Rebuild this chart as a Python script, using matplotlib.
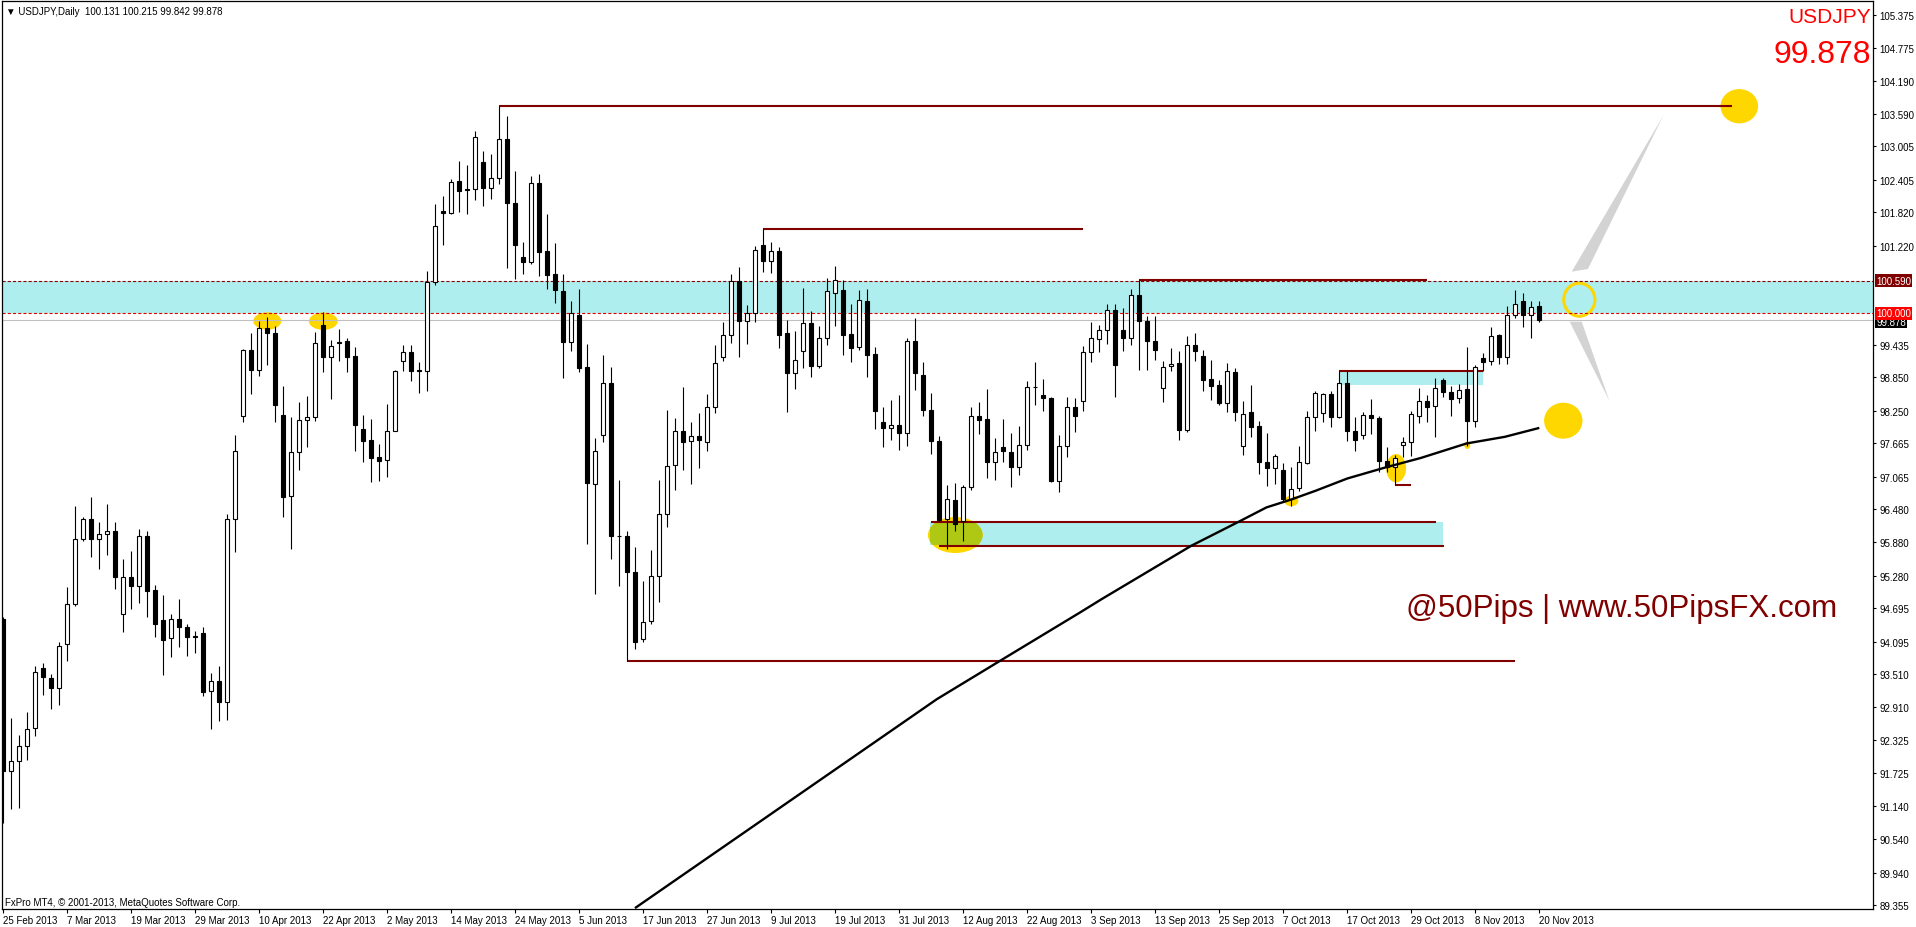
import matplotlib
matplotlib.use("Agg")
import matplotlib.pyplot as plt
import matplotlib.transforms as mtransforms
from matplotlib.patches import Ellipse, Rectangle, Polygon

plt.rcParams['font.family'] = ['Liberation Sans', 'DejaVu Sans']

# USDJPY daily candles, 25 Feb 2013 .. 20 Nov 2013 (x = bar number)
opens = [94.50, 91.76, 91.94, 92.21, 92.54, 93.62, 93.44, 93.26, 94.05, 94.78,
         95.94, 96.30, 95.95, 96.04, 96.08, 94.59, 95.25, 95.10, 95.99, 95.02,
         94.48, 94.16, 94.50, 94.35, 94.19, 94.25, 93.21, 93.39, 93.00, 96.31,
         98.16, 99.34, 98.99, 99.73, 99.65, 98.17, 96.72, 97.50, 98.08, 98.13,
         99.79, 99.21, 99.46, 99.50, 99.23, 97.92, 97.72, 97.41, 97.36, 97.89,
         99.14, 99.30, 98.98, 98.96, 100.56, 101.85, 101.80, 102.38, 102.23, 102.23,
         102.72, 102.25, 102.44, 103.14, 101.99, 101.02, 100.93, 102.34, 101.12, 100.71,
         100.40, 99.49, 99.98, 99.03, 96.93, 97.81, 98.74, 95.99, 95.99, 95.34,
         94.14, 94.46, 95.28, 96.40, 97.28, 97.88, 97.70, 97.79, 97.68, 98.31,
         99.21, 99.62, 100.59, 99.87, 100.00, 101.24, 100.94, 101.12, 99.64, 98.92,
         99.32, 99.82, 99.06, 99.55, 100.36, 100.42, 99.63, 99.39, 100.22, 99.27,
         98.04, 97.93, 98.00, 97.84, 99.51, 98.89, 98.27, 97.70, 96.31, 96.64,
         96.27, 96.87, 98.16, 98.10, 97.32, 97.59, 97.50, 97.23, 97.64, 98.68,
         98.53, 98.47, 96.98, 97.61, 98.31, 98.42, 99.30, 99.54, 99.71, 100.07,
         99.70, 99.55, 100.34, 99.86, 99.50, 98.65, 99.05, 99.11, 97.91, 99.43,
         99.23, 98.82, 98.71, 98.39, 98.94, 97.62, 98.22, 97.97, 97.32, 97.22,
         97.18, 96.66, 96.85, 97.31, 98.13, 98.20, 98.55, 98.14, 98.74, 97.88,
         97.82, 98.17, 98.11, 97.34, 97.23, 97.63, 97.68, 98.16, 98.42, 98.33,
         98.80, 98.58, 98.47, 98.64, 98.06, 99.19, 99.14, 99.61, 99.21, 99.98,
         100.23, 99.97, 100.131]
highs = [94.53, 92.72, 92.42, 92.82, 93.66, 93.71, 93.51, 94.08, 95.07, 96.53,
         96.33, 96.69, 96.24, 96.57, 96.24, 95.58, 95.72, 96.12, 96.08, 95.11,
         94.93, 94.59, 94.87, 94.41, 94.29, 94.35, 93.53, 93.66, 96.39, 97.81,
         99.36, 99.65, 99.87, 99.93, 99.78, 98.69, 98.13, 98.40, 98.51, 99.66,
         100.02, 99.52, 99.72, 99.55, 99.39, 98.17, 98.10, 97.65, 98.37, 98.99,
         99.43, 99.43, 99.12, 100.77, 101.96, 102.12, 102.42, 102.74, 102.67, 103.28,
         102.92, 102.87, 103.74, 103.55, 102.56, 101.28, 102.48, 102.50, 101.79, 101.26,
         100.71, 100.23, 100.44, 99.45, 97.76, 99.26, 99.03, 97.00, 96.08, 95.79,
         95.18, 95.74, 97.00, 98.26, 98.12, 98.67, 98.04, 98.21, 98.55, 99.43,
         99.84, 100.71, 100.83, 100.15, 101.21, 101.52, 101.28, 101.19, 99.88, 99.68,
         100.46, 100.04, 99.78, 100.64, 100.86, 100.60, 100.17, 100.42, 100.44, 99.40,
         98.31, 98.44, 98.53, 99.56, 99.92, 99.12, 98.56, 97.79, 96.91, 96.94,
         96.91, 98.31, 98.41, 98.64, 97.76, 98.10, 97.85, 97.97, 98.79, 99.12,
         98.82, 98.49, 97.81, 98.49, 98.47, 99.41, 99.85, 99.79, 100.17, 100.17,
         100.09, 100.44, 100.60, 99.96, 99.95, 99.15, 99.37, 99.33, 99.60, 99.64,
         99.34, 99.16, 98.80, 99.10, 99.02, 98.43, 98.71, 98.06, 97.84, 97.47,
         97.30, 97.23, 97.62, 98.24, 98.61, 98.57, 98.61, 98.96, 98.96, 98.13,
         98.22, 98.46, 98.16, 97.59, 97.46, 97.77, 98.25, 98.65, 98.54, 98.83,
         98.83, 98.70, 98.73, 99.39, 99.07, 99.29, 99.76, 99.63, 100.13, 100.42,
         100.36, 100.23, 100.215]
lows = [90.84, 91.08, 91.11, 91.97, 92.40, 93.14, 92.88, 92.96, 93.75, 94.74,
        95.91, 95.61, 95.40, 95.66, 95.04, 94.27, 94.68, 94.79, 94.53, 94.17,
        93.49, 93.82, 93.99, 93.84, 93.89, 93.12, 92.52, 92.67, 92.69, 95.71,
        98.04, 98.55, 98.88, 99.07, 98.05, 96.33, 95.76, 97.19, 97.60, 98.07,
        98.95, 98.46, 99.15, 98.95, 97.53, 97.32, 96.97, 96.99, 97.06, 97.88,
        98.97, 98.79, 98.56, 98.61, 100.52, 101.24, 101.79, 101.83, 101.79, 102.04,
        101.94, 102.05, 102.32, 100.81, 100.62, 100.71, 100.89, 100.68, 100.44, 100.19,
        98.83, 99.32, 98.94, 95.86, 94.96, 97.68, 95.58, 95.10, 93.75, 93.96,
        94.08, 94.41, 94.80, 96.16, 96.82, 97.19, 96.93, 97.21, 97.53, 98.21,
        99.15, 99.47, 99.22, 99.45, 99.85, 100.75, 100.73, 99.37, 98.23, 98.64,
        99.02, 98.86, 99.01, 99.43, 99.78, 99.26, 99.12, 99.34, 98.86, 97.92,
        97.60, 97.73, 97.55, 97.62, 98.63, 98.16, 97.47, 96.24, 95.77, 96.09,
        95.90, 96.83, 97.83, 97.03, 97.00, 97.32, 96.88, 97.10, 97.55, 98.36,
        98.24, 96.96, 96.79, 97.42, 97.86, 98.25, 99.13, 99.30, 99.45, 98.50,
        99.32, 99.44, 98.99, 98.99, 99.17, 98.41, 98.97, 97.72, 97.86, 99.15,
        98.61, 98.44, 98.36, 98.23, 98.07, 97.45, 97.77, 97.11, 96.90, 96.93,
        96.60, 96.54, 96.81, 97.29, 97.89, 98.04, 97.96, 98.11, 97.71, 97.53,
        97.74, 97.83, 97.14, 97.15, 96.92, 97.41, 97.43, 98.02, 98.05, 97.78,
        98.49, 98.15, 98.39, 97.62, 97.95, 98.97, 99.08, 99.09, 99.09, 99.91,
        99.76, 99.55, 99.842]
closes = [91.77, 91.94, 92.21, 92.52, 93.54, 93.45, 93.26, 94.02, 94.78, 95.95,
          96.30, 95.95, 96.04, 96.08, 95.25, 95.25, 95.10, 95.99, 95.01, 94.42,
          94.13, 94.50, 94.35, 94.17, 94.17, 93.19, 93.39, 93.00, 96.31, 97.52,
          99.34, 98.99, 99.73, 99.64, 98.36, 96.70, 97.50, 98.09, 98.13, 99.46,
          99.21, 99.42, 99.48, 99.21, 98.00, 97.71, 97.39, 97.35, 97.89, 98.97,
          99.30, 98.97, 98.97, 100.56, 101.57, 101.80, 102.37, 102.21, 102.22, 103.17,
          102.25, 102.44, 103.13, 101.99, 101.24, 100.93, 102.34, 101.11, 100.70, 100.43,
          99.49, 100.00, 99.02, 96.94, 97.52, 98.74, 95.99, 95.99, 95.34, 94.08,
          94.45, 95.28, 96.40, 97.26, 97.88, 97.69, 97.79, 97.73, 98.31, 99.10,
          99.62, 100.59, 99.87, 100.00, 101.15, 100.94, 101.12, 99.62, 98.92, 99.17,
          99.82, 99.06, 99.55, 100.40, 100.60, 99.62, 99.37, 100.24, 99.26, 98.24,
          97.93, 98.00, 97.84, 99.51, 98.92, 98.27, 97.71, 96.29, 96.67, 96.21,
          96.87, 98.16, 98.09, 97.32, 97.50, 97.52, 97.23, 97.64, 98.67, 98.68,
          98.47, 96.99, 97.61, 98.31, 98.15, 99.30, 99.55, 99.71, 100.07, 99.08,
          99.55, 100.34, 99.86, 99.51, 99.35, 99.03, 99.09, 97.91, 99.43, 99.33,
          98.81, 98.70, 98.39, 98.96, 98.22, 98.19, 97.96, 97.32, 97.22, 97.44,
          96.66, 96.84, 97.32, 98.13, 98.56, 98.55, 98.14, 98.74, 97.88, 97.73,
          98.17, 98.11, 97.34, 97.23, 97.39, 97.68, 98.19, 98.42, 98.32, 98.65,
          98.58, 98.46, 98.63, 98.06, 99.03, 99.13, 99.60, 99.21, 99.98, 100.17,
          99.97, 100.11, 99.878]

date_labels = ['25 Feb 2013', '7 Mar 2013', '19 Mar 2013', '29 Mar 2013', '10 Apr 2013',
               '22 Apr 2013', '2 May 2013', '14 May 2013', '24 May 2013', '5 Jun 2013',
               '17 Jun 2013', '27 Jun 2013', '9 Jul 2013', '19 Jul 2013', '31 Jul 2013',
               '12 Aug 2013', '22 Aug 2013', '3 Sep 2013', '13 Sep 2013', '25 Sep 2013',
               '7 Oct 2013', '17 Oct 2013', '29 Oct 2013', '8 Nov 2013', '20 Nov 2013']
price_ticks = [105.375, 104.775, 104.190, 103.590, 103.005, 102.405, 101.820, 101.220,
               99.435, 98.850, 98.250, 97.665, 97.065, 96.480, 95.880, 95.280, 94.695,
               94.095, 93.510, 92.910, 92.325, 91.725, 91.140, 90.540, 89.940, 89.355]

# moving average curve (bar, price)
ma_bar = [78.96, 116.7, 124.6, 134.6, 137.3, 148.5, 154.4, 157.9,
          160.96, 164.05, 168.0, 172.8, 177.2, 182.9, 187.7, 192.0]
ma_val = [89.30, 93.06, 93.75, 94.62, 94.86, 95.82, 96.25, 96.51,
          96.65, 96.81, 97.03, 97.23, 97.40, 97.66, 97.78, 97.94]

band_low, band_high = 100.000, 100.590
last_price = 99.878

# horizontal level lines: price, first bar, last bar
level_price = [103.737, 101.519, 100.602, 98.970, 96.918, 96.250, 95.816, 93.752]
level_start = [62, 95, 142, 167, 174, 116, 117, 78]
level_end = [216.05, 135, 178, 185, 176, 179.1, 180.05, 189]

# cyan zones: first bar, last bar, low, high
zone_start = [167, 115.8]
zone_end = [185, 180]
zone_low = [98.718, 95.83]
zone_high = [98.97, 96.24]

# yellow marks: bar, price, width (bars), height (price)
mark_bar = [33, 40, 161, 174.1, 183, 195, 217]
mark_price = [99.864, 99.86, 96.625, 97.215, 97.627, 98.07, 103.728]
mark_w = [3.5, 3.6, 1.75, 2.5, 0.75, 4.8, 4.7]
mark_h = [0.312, 0.312, 0.19, 0.51, 0.13, 0.648, 0.617]

BLACK = 'black'
MAROON = '#800000'
CYAN = '#AFEEEE'
GOLD = '#FFD700'

fig = plt.figure(figsize=(19.16, 9.28), dpi=100)
ax = fig.add_axes([2 / 1916, 1 - 910 / 928, (1873.3 - 2) / 1916, (910 - 2.3) / 928])
ax.set_xlim(-0.1625, 233.75)
ax.set_ylim(89.284, 105.616)

# background objects
ax.axhspan(band_low, band_high, color=CYAN, lw=0, zorder=0.5)
ax.axhline(band_high, color='#8B0000', lw=0.8, dashes=(2.8, 1.9), zorder=1)
ax.axhline(band_low, color='#E00000', lw=0.8, dashes=(2.8, 1.9), zorder=1)
ax.axhline(last_price, color='#C0C0C0', lw=0.8, zorder=1)

low_zone = None
for x0, x1, lo, hi in zip(zone_start, zone_end, zone_low, zone_high):
    r = Rectangle((x0, lo), x1 - x0, hi - lo, facecolor=CYAN, lw=0, zorder=0.6)
    ax.add_patch(r)
    low_zone = r

for x, y, w, h in zip(mark_bar, mark_price, mark_w, mark_h):
    ax.add_patch(Ellipse((x, y), w, h, facecolor=GOLD, lw=0, zorder=0.7))

# marked low of August: yellow, darker where it lies on the cyan zone
ax.add_patch(Ellipse((119, 96.013), 6.84, 0.648, facecolor=GOLD, lw=0, zorder=0.7))
over = Ellipse((119, 96.013), 6.84, 0.648, facecolor='#AFC814', lw=0, zorder=0.75)
ax.add_patch(over)
over.set_clip_path(low_zone)

# open ring and the two grey arrows pointing from it
ax.add_patch(Ellipse((197, 100.247), 3.9, 0.594, fill=False, edgecolor=GOLD, lw=2.2, zorder=0.8))
ax.add_patch(Polygon([(196.05, 100.751), (198.08, 100.80), (207.5, 103.56)],
                     closed=True, facecolor='#D3D3D3', lw=0, zorder=0.7))
ax.add_patch(Polygon([(195.8, 99.851), (197.3, 99.851), (200.75, 98.43)],
                     closed=True, facecolor='#D3D3D3', lw=0, zorder=0.7))

for p, x0, x1 in zip(level_price, level_start, level_end):
    ax.hlines(p, x0, x1, color=MAROON, lw=1.5, zorder=1.2)

# candles
bars = list(range(len(opens)))
ax.vlines(bars, lows, highs, color=BLACK, lw=0.8, zorder=2)
bottoms = [min(o, c) for o, c in zip(opens, closes)]
heights = [abs(c - o) for o, c in zip(opens, closes)]
faces = ['white' if c >= o else BLACK for o, c in zip(opens, closes)]
ax.bar(bars, heights, bottom=bottoms, width=0.5, color=faces, edgecolor=BLACK,
       linewidth=0.8, zorder=3)

ax.plot(ma_bar, ma_val, color=BLACK, lw=1.7, zorder=4, solid_capstyle='butt')

# axes styling
for s in ax.spines.values():
    s.set_color(BLACK)
    s.set_linewidth(0.9)
ax.yaxis.tick_right()
ax.set_yticks(price_ticks)
ax.set_yticklabels(['%.3f' % v for v in price_ticks])
ax.tick_params(axis='y', direction='out', length=2.5, width=0.8, pad=2, labelsize=7)
ax.set_xticks(list(range(0, len(opens), 8)))
ax.set_xticklabels(date_labels, ha='left')
ax.tick_params(axis='x', direction='out', length=3, width=0.8, pad=1, labelsize=7)

# price boxes on the right scale
trans = mtransforms.blended_transform_factory(ax.transAxes, ax.transData)
for txt, y, fc in [('99.878', 99.852, BLACK), ('100.000', 100.0, '#FF0000'),
                   ('100.590', 100.59, MAROON)]:
    ax.text(1.0016, y, txt, transform=trans, ha='left', va='center', fontsize=7,
            color='white', clip_on=False, zorder=6,
            bbox=dict(boxstyle='square,pad=0.12', fc=fc, ec='none'))

# texts
ax.text(0.002, 0.9893, '\u25bc USDJPY,Daily  100.131 100.215 99.842 99.878',
        transform=ax.transAxes, fontsize=7, va='center', ha='left', zorder=6)
ax.text(0.99862, 0.97753, 'USDJPY', transform=ax.transAxes, fontsize=15,
        color='#FF0000', ha='right', va='baseline', zorder=6)
ax.text(0.99862, 0.9328, '99.878', transform=ax.transAxes, fontsize=23,
        color='#FF0000', ha='right', va='baseline', zorder=6)
ax.text(175.4, 94.562, '@50Pips | www.50PipsFX.com', fontsize=22.5, color=MAROON,
        ha='left', va='baseline', zorder=6)
ax.text(0.0016, 0.0044, 'FxPro MT4, \u00a9 2001-2013, MetaQuotes Software Corp.',
        transform=ax.transAxes, fontsize=7, ha='left', va='baseline', zorder=6)

fig.savefig('out.png', dpi=100)
